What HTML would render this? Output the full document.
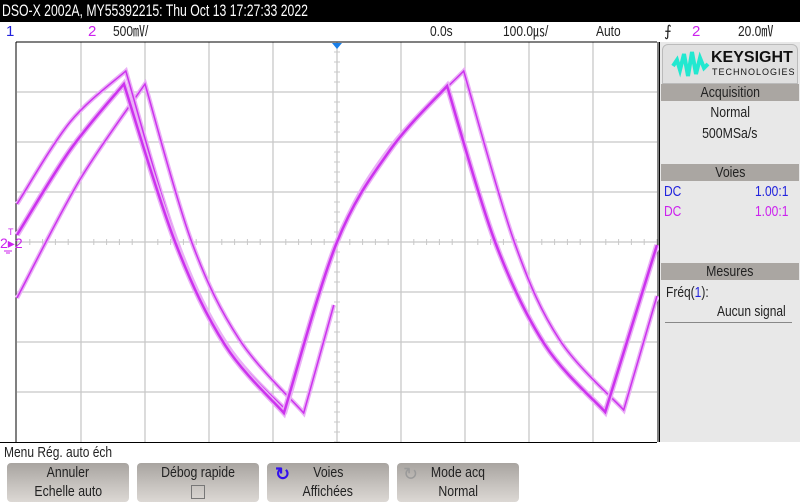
<!DOCTYPE html>
<html><head><meta charset="utf-8">
<style>
body{margin:0;width:800px;height:503px;overflow:hidden;background:#fff;font-family:"Liberation Sans",sans-serif;position:relative}
.abs{position:absolute}
.n{display:inline-block;transform:scaleX(.8);transform-origin:left center;white-space:nowrap}
.nc{display:inline-block;transform:scaleX(.82);transform-origin:center center;white-space:nowrap}
#topbar{left:0;top:0;width:800px;height:22px;background:#000;color:#fff;font-size:17px;line-height:22px;padding-left:2px;box-sizing:border-box}
.st{top:22px;font-size:15px;line-height:20px;color:#222}
.hdr{left:661px;width:138px;height:17px;background:#aaa6a2;font-size:15px;line-height:17px;text-align:center;color:#222}
.btn{top:463px;width:122px;height:39px;border-radius:4px;background:linear-gradient(#a8a4a0,#c8c4c0 60%,#dcd8d4);font-size:15px;line-height:19px;text-align:center;color:#222}
</style></head><body>
<div id="topbar" class="abs"><span class="n" style="transform:scaleX(.72)">DSO-X 2002A, MY55392215: Thu Oct 13 17:27:33 2022</span></div>
<div class="abs st" style="left:6px;color:#2222dd">1</div>
<div class="abs st" style="left:88px;color:#cc22ee">2</div>
<div class="abs st" style="left:113px"><span class="n">500㎷/</span></div>
<div class="abs st" style="left:430px"><span class="n">0.0s</span></div>
<div class="abs st" style="left:503px"><span class="n">100.0㎲/</span></div>
<div class="abs st" style="left:596px"><span class="n">Auto</span></div>
<div class="abs st" style="left:664px">⨍</div>
<div class="abs st" style="left:692px;color:#cc22ee">2</div>
<div class="abs st" style="left:738px"><span class="n">20.0㎷</span></div>

<svg class="abs" style="left:0;top:0" width="800" height="503" id="scope"></svg>

<div class="abs" style="left:659px;top:42px;width:141px;height:400px;background:#e8e8e8;border-left:1px solid #000"></div>
<div class="abs" style="left:662px;top:44px;width:134px;height:38px;background:#e0e0e0;border:1px solid #bbb;border-radius:6px 6px 0 0">
<svg width="40" height="34" style="position:absolute;left:8px;top:3px"><path d="M2 18 L6 12 L9 22 L13 6 L17 28 L21 4 L25 26 L29 10 L33 20 L37 16" fill="none" stroke="#22e8d0" stroke-width="4"/></svg>
<div style="position:absolute;left:48px;top:4px;font:bold 16px 'Liberation Sans',sans-serif;color:#111">KEYSIGHT</div>
<div style="position:absolute;left:49px;top:22px;font:9px 'Liberation Sans',sans-serif;letter-spacing:1px;color:#111">TECHNOLOGIES</div>
</div>
<div class="abs hdr" style="top:84px"><span class="nc">Acquisition</span></div>
<div class="abs" style="left:661px;top:102px;width:138px;text-align:center;font-size:15px;line-height:21px;color:#222"><span class="nc">Normal</span><br><span class="nc">500MSa/s</span></div>
<div class="abs hdr" style="top:164px"><span class="nc">Voies</span></div>
<div class="abs" style="left:664px;top:183px;font-size:15px;color:#2222dd"><span class="n">DC</span></div>
<div class="abs" style="left:755px;top:183px;font-size:15px;color:#2222dd"><span class="n">1.00:1</span></div>
<div class="abs" style="left:664px;top:203px;font-size:15px;color:#cc22ee"><span class="n">DC</span></div>
<div class="abs" style="left:755px;top:203px;font-size:15px;color:#cc22ee"><span class="n">1.00:1</span></div>
<div class="abs hdr" style="top:263px"><span class="nc">Mesures</span></div>
<div class="abs" style="left:666px;top:284px;font-size:15px;color:#222"><span class="n">Fréq(<span style="color:#2222dd">1</span>):</span></div>
<div class="abs" style="left:665px;top:303px;width:127px;height:19px;font-size:15px;color:#222;border-bottom:1px solid #888"><span class="n" style="position:absolute;left:52px">Aucun signal</span></div>

<div class="abs" style="left:4px;top:444px;font-size:15px;color:#222"><span class="n">Menu Rég. auto éch</span></div>
<div class="abs btn" style="left:7px"><span class="nc">Annuler</span><br><span class="nc">Echelle auto</span></div>
<div class="abs btn" style="left:137px"><span class="nc">Débog rapide</span><br><span style="display:inline-block;width:12px;height:12px;border:1px solid #777;vertical-align:middle"></span></div>
<div class="abs btn" style="left:267px"><span style="position:absolute;left:8px;top:2px;color:#3311ee;font-size:18px;font-weight:bold">↻</span><span class="nc">Voies</span><br><span class="nc">Affichées</span></div>
<div class="abs btn" style="left:397px"><span style="position:absolute;left:6px;top:2px;color:#999;font-size:18px">↻</span><span class="nc">Mode acq</span><br><span class="nc">Normal</span></div>

<script>
// Trace data: time (µs) and voltage (V)
const timesA=[-500,-417,-333,-253,-175,-83,0,83,172,247,325,419,500];
const voltsA=[0.07,0.92,1.58,0,-1.03,-1.71,0,0.92,1.56,0,-1.03,-1.70,-0.03];
const timesB=[-500,-417,-330,-250,-172,-80,0,83,198,277,348,448,500];
const voltsB=[0.38,1.2,1.71,0,-1.03,-1.68,0,0.94,1.71,0,-0.98,-1.68,-0.54];
const timesC=[-500,-402,-300,-227,-152,-52,-5];
const voltsC=[-0.56,0.62,1.58,0,-0.98,-1.71,-0.63];
const timePerDiv=100, voltPerDiv=0.5;

const L=17,T=42,W=640,H=400,CX=L+W/2,CY=T+H/2;
const xs=t=>CX+t/timePerDiv*64;
const ys=v=>CY-v/voltPerDiv*50;
const NS="http://www.w3.org/2000/svg";
const svg=document.getElementById('scope');
function mk(tag,attrs){const e=document.createElementNS(NS,tag);for(const k in attrs)e.setAttribute(k,attrs[k]);svg.appendChild(e);return e;}
for(let i=1;i<10;i++){const g=mk('line',{x1:L+i*64,y1:T,x2:L+i*64,y2:T+H,stroke:'#c8c8c8','stroke-width':1.3});

}
for(let i=1;i<8;i++){const g=mk('line',{x1:L,y1:T+i*50,x2:L+W,y2:T+i*50,stroke:'#c8c8c8','stroke-width':1.3});

}
for(let i=0;i<=50;i++){const x=L+i*12.8;mk('line',{x1:x,y1:CY-3,x2:x,y2:CY+3,stroke:'#c8c8c8'});}
for(let i=0;i<=40;i++){const y=T+i*10;mk('line',{x1:CX-3,y1:y,x2:CX+3,y2:y,stroke:'#c8c8c8'});}
mk('line',{x1:L-1,y1:T,x2:L-1,y2:T+H,stroke:'#000'});
mk('line',{x1:L-1,y1:T,x2:L+W,y2:T,stroke:'#000'});
mk('line',{x1:0,y1:T+H+0.5,x2:L+W,y2:T+H+0.5,stroke:'#000'});
mk('line',{x1:L+W+1,y1:T,x2:L+W+1,y2:T+H,stroke:'#000'});
// build smooth path, sharp corners at local extrema
function pathFor(ts,vs){
  const P=ts.map((t,i)=>[xs(t),ys(vs[i])]);
  const corner=i=>i===0||i===P.length-1||((vs[i]-vs[i-1])*(vs[i+1]-vs[i])<0);
  let d='M'+P[0][0].toFixed(1)+','+P[0][1].toFixed(1);
  for(let i=0;i<P.length-1;i++){
    const p0=corner(i)?P[i]:P[i-1], p1=P[i], p2=P[i+1], p3=corner(i+1)?P[i+1]:P[i+2];
    const c1=[p1[0]+(p2[0]-p0[0])/6,p1[1]+(p2[1]-p0[1])/6];
    const c2=[p2[0]-(p3[0]-p1[0])/6,p2[1]-(p3[1]-p1[1])/6];
    d+=` C${c1[0].toFixed(1)},${c1[1].toFixed(1)} ${c2[0].toFixed(1)},${c2[1].toFixed(1)} ${p2[0].toFixed(1)},${p2[1].toFixed(1)}`;
  }
  return d;
}
function trace(ts,vs,name,w){
  const d=pathFor(ts,vs);
  const g=mk('path',{d:d,fill:'none',stroke:'#eab0f6','stroke-width':w+3});
  
  
  const p=mk('path',{d:d,fill:'none',stroke:'#cc33ee','stroke-width':w});
  
  
}
trace(timesC,voltsC,'trace-c',1.5);
trace(timesB,voltsB,'trace-b',1.5);
trace(timesA,voltsA,'trace-a',2.5);
const trig=mk('polygon',{points:`${CX-5},43 ${CX+5},43 ${CX},49`,fill:'#1a7fe8'});


const gm=mk('text',{x:0,y:CY+6,fill:'#cc22ee','font-size':14,'font-family':'Liberation Sans,sans-serif'});
gm.textContent='2▸2';


mk('text',{x:8,y:CY-7,fill:'#cc22ee','font-size':9,'font-family':'Liberation Sans,sans-serif'}).textContent='T';
mk('line',{x1:4,y1:CY+9,x2:12,y2:CY+9,stroke:'#cc22ee'});
mk('line',{x1:6,y1:CY+11,x2:10,y2:CY+11,stroke:'#cc22ee'});
</script>
</body></html>
